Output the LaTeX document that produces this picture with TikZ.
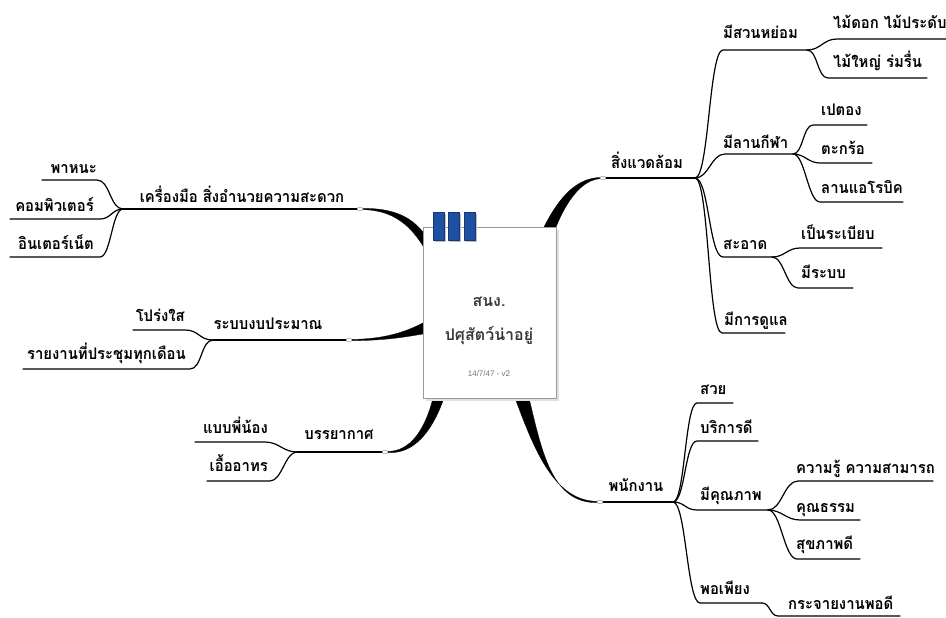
\documentclass[tikz,border=0pt]{standalone}
\usepackage{fontspec}
\usetikzlibrary{shapes.geometric}
\newfontfamily\thai[Script=Thai,FakeStretch=0.93]{Loma}
\newfontfamily\thaic[Script=Thai]{Loma}
\newfontfamily\latn{Liberation Sans}
\definecolor{tabblue}{HTML}{1F4FA0}
\definecolor{boxgray}{HTML}{9A9A9A}
\tikzset{
  lbl/.style={font=\thai\bfseries\fontsize{16}{18}\selectfont, inner sep=0pt, anchor=base},
  rl/.style={lbl, anchor=base west},
  ll/.style={lbl, anchor=base east},
  br/.style={line width=1.2pt, black, line cap=round},
  wedge/.style={fill=black, draw=black, line width=0.3pt},
  knob/.style={draw=boxgray, fill=white, ellipse, minimum width=6pt, minimum height=3.5pt, inner sep=0pt, line width=0.5pt},
  tab/.style={fill=tabblue, draw=tabblue!70!black, line width=0.4pt},
  tabshadow/.style={fill=black!25},
  ctext/.style={font=\thaic\bfseries\fontsize{16}{18}\selectfont, text=black!78, anchor=base, inner sep=0pt},
}
\begin{document}
\begin{tikzpicture}[x=1pt,y=-1pt]
\useasboundingbox (0,0) rectangle (946,618);

% ---------------- wedges (main branches) ----------------
\fill[wedge] (544,227) .. controls (560,195) and (578,178) .. (600,177.5) -- (600,178.7) .. controls (582,180) and (567,200) .. (556,227) -- cycle;
\fill[wedge] (515,398) .. controls (535,452) and (555,501.4) .. (598,501.4) -- (598,502.6) .. controls (552,504) and (542,452) .. (529,398) -- cycle;
\fill[wedge] (362,208.4) .. controls (392,208) and (410,216) .. (423,232) -- (423,246) .. controls (408,222) and (390,210) .. (362,209.6) -- cycle;
\fill[wedge] (352,339.4) .. controls (385,339) and (405,332) .. (423,323) -- (423,334) .. controls (405,337) and (385,340.6) .. (352,340.6) -- cycle;
\fill[wedge] (433,398) .. controls (425,430) and (410,451.4) .. (388,451.4) -- (388,452.6) .. controls (414,454) and (432,432) .. (444,398) -- cycle;

% ---------------- centre box ----------------
\fill[black!12] (426,230) rectangle (559,401);
\node[draw=boxgray, fill=white, line width=0.7pt, minimum width=133pt, minimum height=171pt, inner sep=0pt] (centre) at (489.5,312.5) {};
\foreach \x in {433,448,464} {
  \fill[tabshadow] (\x+2,214) rectangle (\x+13,242);
  \fill[tab] (\x,212) rectangle (\x+11,240);
}
\node[ctext] (c1) at (489,306) {สนง.};
\node[ctext] (c2) at (489,340) {ปศุสัตว์น่าอยู่};
\node[font=\latn\fontsize{8}{10}\selectfont, text=black!55, anchor=base, inner sep=0pt] (c3) at (489,376) {14/7/47 - v2};

% ---------------- knobs ----------------
\node[knob] (oR1) at (603,178) {};
\node[knob] (oR2) at (600,502) {};
\node[knob] (oL1) at (360,209) {};
\node[knob] (oL2) at (349,340) {};
\node[knob] (oL3) at (385,452) {};

% ================= RIGHT TOP =================
\coordinate (R1) at (695,178);
\draw[br] (oR1.east) -- (R1);
\node[lbl] (tR1) at (647,168) {สิ่งแวดล้อม};

\coordinate (a1) at (723,50);  \coordinate (a2) at (807,50);
\coordinate (b1) at (725,154); \coordinate (b2) at (793,154);
\coordinate (c1s) at (723,257); \coordinate (c2s) at (772,257);
\coordinate (d1) at (722,333); \coordinate (d2) at (785,333);
\draw[br] (R1) .. controls +(14,0) and +(-14,0) .. (a1) -- (a2);
\draw[br] (R1) .. controls +(14,0) and +(-14,0) .. (b1) -- (b2);
\draw[br] (R1) .. controls +(14,0) and +(-14,0) .. (c1s) -- (c2s);
\draw[br] (R1) .. controls +(14,0) and +(-14,0) .. (d1) -- (d2);
\node[rl] (ta) at (723,39) {มีสวนหย่อม};
\node[rl] (tb) at (723,148) {มีลานกีฬา};
\node[rl] (tc) at (723,249) {สะอาด};
\node[rl] (td) at (724,325) {มีการดูแล};

\coordinate (a11) at (837,39); \coordinate (a12) at (946,39);
\coordinate (a21) at (828,78); \coordinate (a22) at (927,78);
\draw[br] (a2) .. controls +(14,0) and +(-14,0) .. (a11) -- (a12);
\draw[br] (a2) .. controls +(11,0) and +(-11,0) .. (a21) -- (a22);
\node[rl] (ta1) at (833,29) {ไม้ดอก ไม้ประดับ};
\node[rl] (ta2) at (833,68) {ไม้ใหญ่ ร่มรื่น};

\coordinate (b11) at (813,125); \coordinate (b12) at (867,125);
\coordinate (b21) at (820,163); \coordinate (b22) at (872,163);
\coordinate (b31) at (820,202); \coordinate (b32) at (903,202);
\draw[br] (b2) .. controls +(10,0) and +(-10,0) .. (b11) -- (b12);
\draw[br] (b2) .. controls +(12,0) and +(-12,0) .. (b21) -- (b22);
\draw[br] (b2) .. controls +(12,0) and +(-12,0) .. (b31) -- (b32);
\node[rl] (tb1) at (821,116) {เปตอง};
\node[rl] (tb2) at (821,154) {ตะกร้อ};
\node[rl] (tb3) at (821,193) {ลานแอโรบิค};

\coordinate (c11) at (800,248); \coordinate (c12) at (882,248);
\coordinate (c21) at (798,288); \coordinate (c22) at (853,288);
\draw[br] (c2s) .. controls +(13,0) and +(-13,0) .. (c11) -- (c12);
\draw[br] (c2s) .. controls +(12,0) and +(-12,0) .. (c21) -- (c22);
\node[rl] (tc1) at (801,239) {เป็นระเบียบ};
\node[rl] (tc2) at (801,278) {มีระบบ};

% ================= RIGHT BOTTOM =================
\coordinate (R2) at (673,502);
\draw[br] (oR2.east) -- (R2);
\node[lbl] (tR2) at (636,491) {พนักงาน};

\coordinate (e1) at (697,403); \coordinate (e2) at (733,403);
\coordinate (f1) at (697,441); \coordinate (f2) at (758,441);
\coordinate (g1) at (697,510); \coordinate (g2) at (768,510);
\coordinate (h1) at (700,603); \coordinate (h2) at (762,603);
\draw[br] (R2) .. controls +(12,0) and +(-12,0) .. (e1) -- (e2);
\draw[br] (R2) .. controls +(12,0) and +(-12,0) .. (f1) -- (f2);
\draw[br] (R2) .. controls +(12,0) and +(-12,0) .. (g1) -- (g2);
\draw[br] (R2) .. controls +(13,0) and +(-13,0) .. (h1) -- (h2);
\node[rl] (te) at (700,394) {สวย};
\node[rl] (tf) at (700,433) {บริการดี};
\node[rl] (tg) at (700,500) {มีคุณภาพ};
\node[rl] (th) at (700,594) {พอเพียง};

\coordinate (g11) at (798,481); \coordinate (g12) at (933,481);
\coordinate (g21) at (800,520); \coordinate (g22) at (860,520);
\coordinate (g31) at (797,559); \coordinate (g32) at (860,559);
\draw[br] (g2) .. controls +(14,0) and +(-14,0) .. (g11) -- (g12);
\draw[br] (g2) .. controls +(14,0) and +(-14,0) .. (g21) -- (g22);
\draw[br] (g2) .. controls +(13,0) and +(-13,0) .. (g31) -- (g32);
\node[rl] (tg1) at (796,473) {ความรู้ ความสามารถ};
\node[rl] (tg2) at (796,512) {คุณธรรม};
\node[rl] (tg3) at (796,549) {สุขภาพดี};

\coordinate (h11) at (778,616); \coordinate (h12) at (900,616);
\draw[br] (h2) .. controls +(8,0) and +(-8,0) .. (h11) -- (h12);
\node[rl] (th1) at (788,609) {กระจายงานพอดี};

% ================= LEFT 1 =================
\coordinate (L1) at (123,209);
\draw[br] (oL1.west) -- (L1);
\node[lbl] (tL1) at (242,202) {เครื่องมือ สิ่งอำนวยความสะดวก};
\coordinate (p1) at (97,180);  \coordinate (p2) at (42,180);
\coordinate (q1) at (100,219); \coordinate (q2) at (10,219);
\coordinate (r1) at (100,257); \coordinate (r2) at (10,257);
\draw[br] (L1) .. controls +(-13,0) and +(13,0) .. (p1) -- (p2);
\draw[br] (L1) .. controls +(-11,0) and +(11,0) .. (q1) -- (q2);
\draw[br] (L1) .. controls +(-11,0) and +(11,0) .. (r1) -- (r2);
\node[ll] (tp) at (97,173) {พาหนะ};
\node[ll] (tq) at (94,211) {คอมพิวเตอร์};
\node[ll] (tr) at (94,249) {อินเตอร์เน็ต};

% ================= LEFT 2 =================
\coordinate (L2) at (213,340);
\draw[br] (oL2.west) -- (L2);
\node[lbl] (tL2) at (268,329) {ระบบงบประมาณ};
\coordinate (s1) at (185,330); \coordinate (s2) at (133,330);
\coordinate (u1) at (190,369); \coordinate (u2) at (23,369);
\draw[br] (L2) .. controls +(-14,0) and +(14,0) .. (s1) -- (s2);
\draw[br] (L2) .. controls +(-12,0) and +(12,0) .. (u1) -- (u2);
\node[ll] (ts) at (185,321) {โปร่งใส};
\node[ll] (tu) at (186,359) {รายงานที่ประชุมทุกเดือน};

% ================= LEFT 3 =================
\coordinate (L3) at (297,452);
\draw[br] (oL3.west) -- (L3);
\node[lbl] (tL3) at (339,439) {บรรยากาศ};
\coordinate (v1) at (265,442); \coordinate (v2) at (195,442);
\coordinate (w1) at (270,481); \coordinate (w2) at (207,481);
\draw[br] (L3) .. controls +(-14,0) and +(14,0) .. (v1) -- (v2);
\draw[br] (L3) .. controls +(-12,0) and +(12,0) .. (w1) -- (w2);
\node[ll] (tv) at (268,433) {แบบพี่น้อง};
\node[ll] (tw) at (268,471) {เอื้ออาทร};
\end{tikzpicture}
\end{document}
